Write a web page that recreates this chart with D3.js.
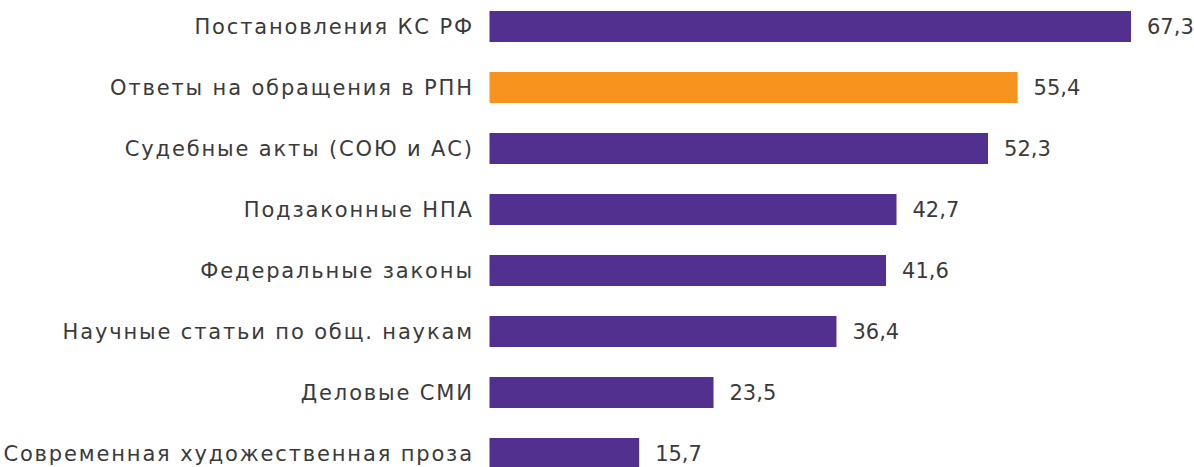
<!DOCTYPE html>
<html><head><meta charset="utf-8">
<script src="https://cdn.jsdelivr.net/npm/d3@7"></script>
<style>html,body{margin:0;padding:0;background:#fff;overflow:hidden}</style>
</head><body>
<svg id="chart" width="1194" height="467"></svg>
<script>
const categories = ["Постановления КС РФ","Ответы на обращения в РПН","Судебные акты (СОЮ и АС)","Подзаконные НПА","Федеральные законы","Научные статьи по общ. наукам","Деловые СМИ","Современная художественная проза"];
const values = [67.3, 55.4, 52.3, 42.7, 41.6, 36.4, 23.5, 15.7];
const highlight = ["Ответы на обращения в РПН"];

const svg = d3.select("#chart");
const x = d3.scaleLinear().domain([0, 67.3]).range([489.5, 1131]);
const y = d3.scaleBand().domain(categories).range([-4, 484]).paddingInner(30/61).paddingOuter(15/61);
const fmt = v => d3.format(".1f")(v).replace(".", ",");
const font = "'DejaVu Sans', sans-serif";
const ls = 1.85;

const g = svg.append("g");
g.selectAll("rect").data(categories).join("rect")
  .attr("x", x(0)).attr("y", d => y(d))
  .attr("width", (d,i) => x(values[i]) - x(0))
  .attr("height", y.bandwidth())
  .attr("fill", d => highlight.includes(d) ? "#F7941D" : "#51308F");

g.selectAll("text.cat").data(categories).join("text").attr("class","cat")
  .attr("x", 472 + ls).attr("y", d => y(d) + y.bandwidth()/2 + 1)
  .attr("text-anchor","end").attr("dominant-baseline","middle")
  .style("font-family", font).style("font-size","21px").style("letter-spacing", ls + "px").style("fill","#3a3a3a")
  .text(d => d);

g.selectAll("text.val").data(categories).join("text").attr("class","val")
  .attr("x", (d,i) => x(values[i]) + 16).attr("y", d => y(d) + y.bandwidth()/2 + 1)
  .attr("dominant-baseline","middle")
  .style("font-family", font).style("font-size","21px").style("fill","#3a3a3a")
  .text((d,i) => fmt(values[i]));
</script>
</body></html>
